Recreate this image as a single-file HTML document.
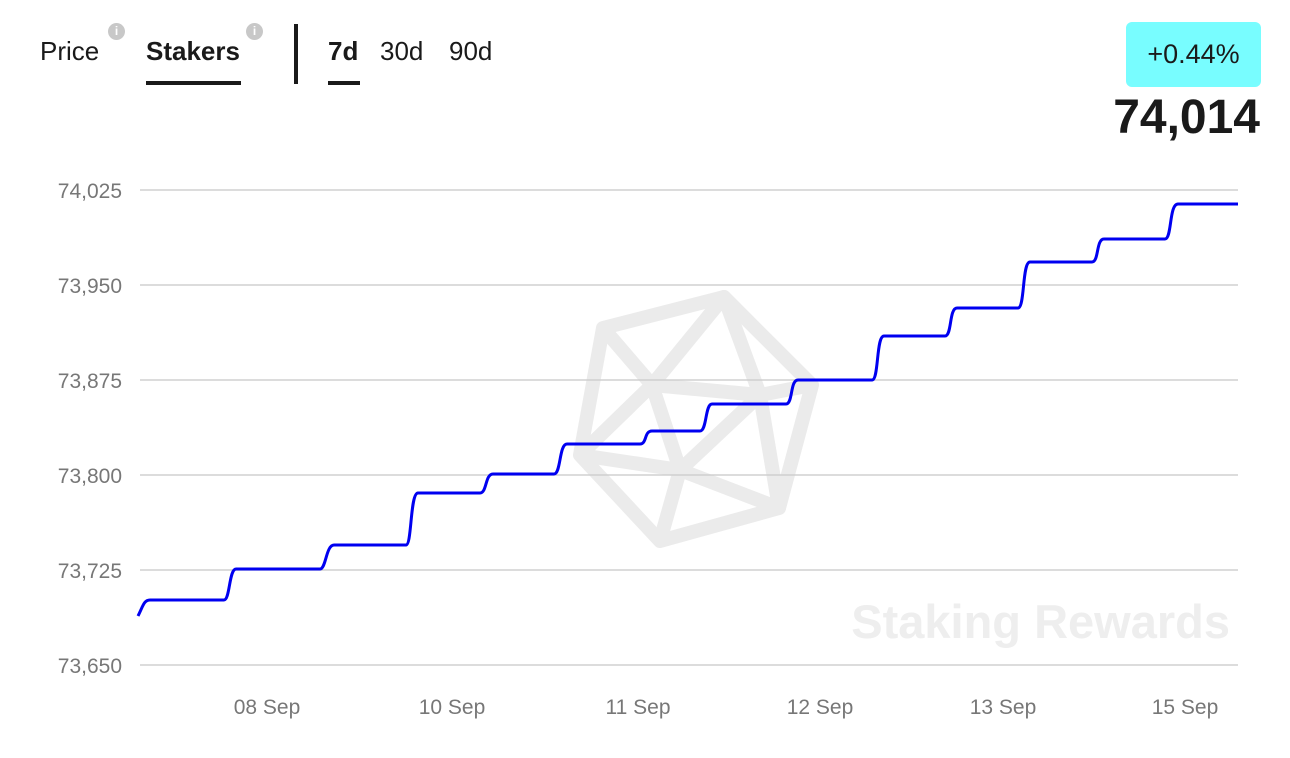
<!DOCTYPE html>
<html><head><style>
body{margin:0;width:1290px;height:758px;background:#fff;font-family:"Liberation Sans",sans-serif;overflow:hidden;position:relative}
.t{position:absolute;font-size:26px;color:#1a1a1a}
.i{position:absolute;width:17px;height:17px;border-radius:50%;background:#c8c8c8;color:#fff;font-size:12px;font-weight:bold;text-align:center;line-height:17px}
</style></head><body>
<div class="t" style="left:40px;top:36px">Price</div>
<div class="i" style="left:108px;top:23px">i</div>
<div class="t" style="left:146px;top:36px;font-weight:bold">Stakers</div>
<div style="position:absolute;left:146px;top:81px;width:95px;height:4px;background:#1a1a1a"></div>
<div class="i" style="left:246px;top:23px">i</div>
<div style="position:absolute;left:294px;top:24px;width:4px;height:60px;background:#1a1a1a"></div>
<div class="t" style="left:328px;top:36px;font-weight:bold">7d</div>
<div style="position:absolute;left:328px;top:81px;width:32px;height:4px;background:#1a1a1a"></div>
<div class="t" style="left:380px;top:36px">30d</div>
<div class="t" style="left:449px;top:36px">90d</div>
<div style="position:absolute;left:1126px;top:22px;width:135px;height:65px;background:#78fdff;border-radius:6px;font-size:27px;color:#1a1a1a;text-align:center;line-height:65px">+0.44%</div>
<div style="position:absolute;right:30px;top:90px;font-size:48px;font-weight:bold;color:#1a1a1a">74,014</div>
<svg width="1290" height="758" style="position:absolute;left:0;top:0">
<g stroke="#ebebeb" stroke-width="14" fill="none" stroke-linejoin="round">
<polygon points="603,328 724,297 812,385 779,508 660,541 580,455"/>
<polyline points="603,328 652,385 724,297 760,395 652,385 580,455"/>
<polyline points="652,385 680,470 760,395 779,508 680,470 660,541"/>
<line x1="760" y1="395" x2="812" y2="385"/>
<line x1="680" y1="470" x2="580" y2="455"/>
</g>
<text x="1230" y="638" text-anchor="end" font-size="47" font-weight="bold" fill="#eeeeee" font-family="Liberation Sans">Staking Rewards</text>
<g stroke="#d0d0d0" stroke-width="1.5">
<line x1="140" x2="1238" y1="190" y2="190"/><line x1="140" x2="1238" y1="285" y2="285"/>
<line x1="140" x2="1238" y1="380" y2="380"/><line x1="140" x2="1238" y1="475" y2="475"/>
<line x1="140" x2="1238" y1="570" y2="570"/><line x1="140" x2="1238" y1="665" y2="665"/>
</g>
<g font-size="21" fill="#777" text-anchor="end" font-family="Liberation Sans">
<text x="122" y="198">74,025</text><text x="122" y="293">73,950</text><text x="122" y="388">73,875</text>
<text x="122" y="483">73,800</text><text x="122" y="578">73,725</text><text x="122" y="673">73,650</text>
</g>
<g font-size="21" fill="#777" text-anchor="middle" font-family="Liberation Sans">
<text x="267" y="714">08 Sep</text><text x="452" y="714">10 Sep</text><text x="638" y="714">11 Sep</text>
<text x="820" y="714">12 Sep</text><text x="1003" y="714">13 Sep</text><text x="1185" y="714">15 Sep</text>
</g>
<path fill="none" stroke="#0000f0" stroke-width="3" stroke-linejoin="round" d="M138,616 C143,606 144,600 150,600 L224,600 C230,600 229,569 236,569 L320,569 C326,569 326,545 334,545 L406,545 C412,545 410,493 418,493 L480,493 C487,493 485,474 493,474 L554,474 C561,474 559,444 567,444 L640,444 C647,444 644,431 652,431 L700,431 C707,431 705,404 712,404 L786,404 C793,404 790,380 798,380 L872,380 C879,380 876,336 884,336 L945,336 C952,336 949,308 957,308 L1018,308 C1025,308 1022,262 1030,262 L1092,262 C1099,262 1096,239 1104,239 L1165,239 C1172,239 1169,204 1178,204 L1238,204"/>
</svg>
</body></html>
